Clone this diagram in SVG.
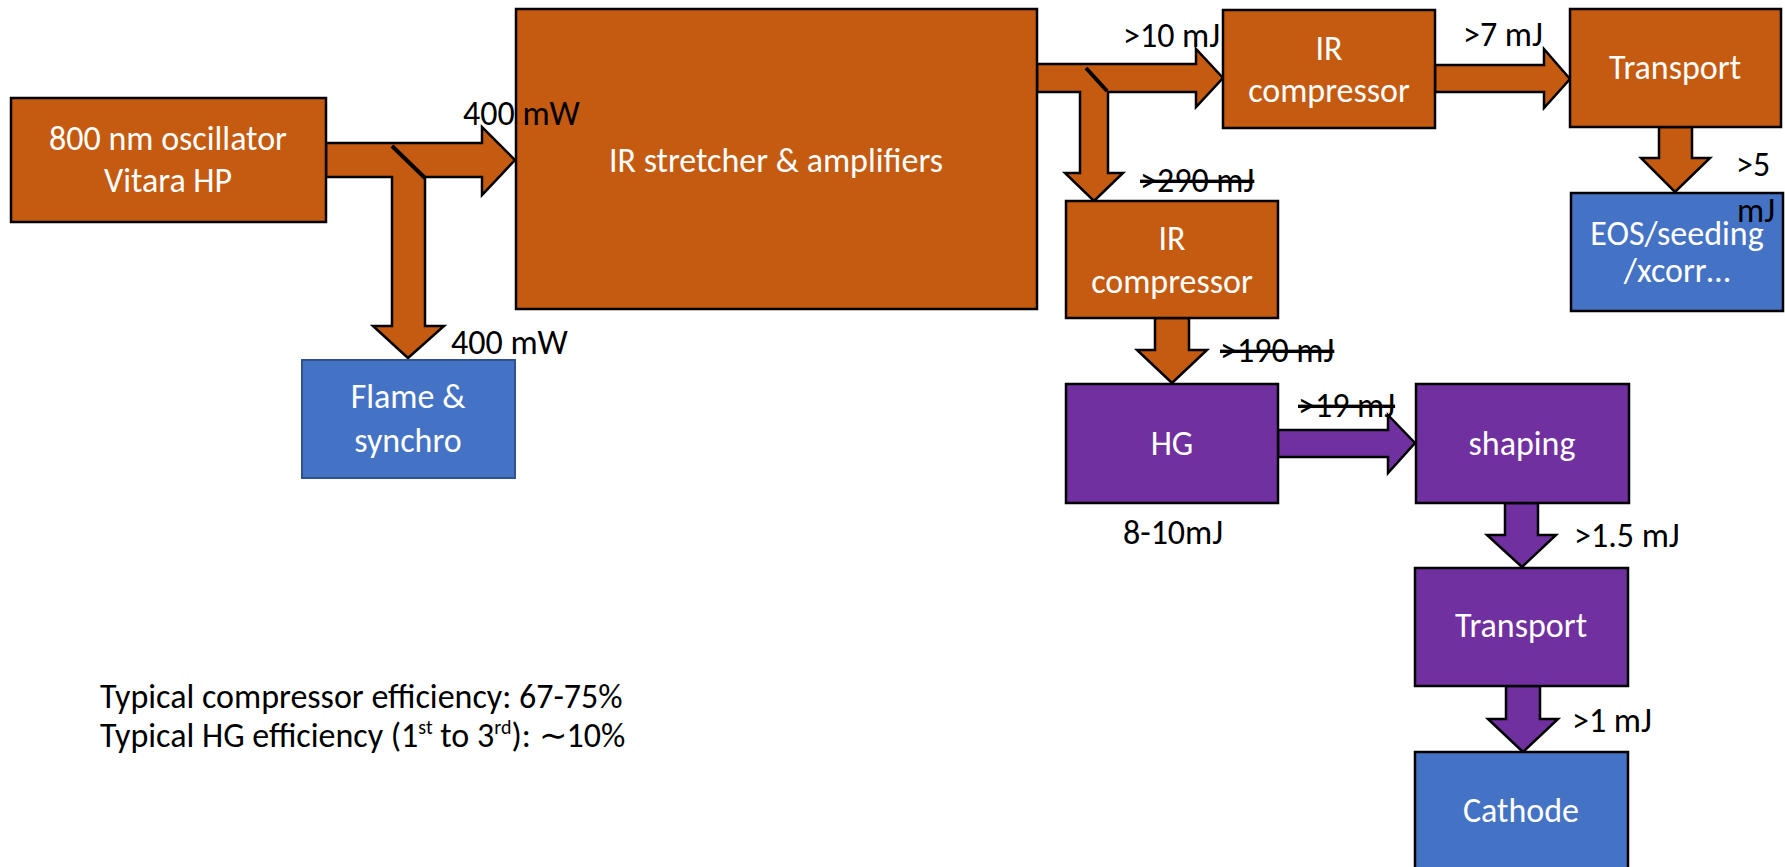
<svg xmlns="http://www.w3.org/2000/svg" width="1785" height="867" viewBox="0 0 1785 867">
  <defs>
    <style>
      .ir { fill: #C55A11; stroke: #000; stroke-width: 2.5; }
      .uv { fill: #7030A0; stroke: #000; stroke-width: 2.5; }
      .use { fill: #4472C4; stroke: #000; stroke-width: 2.5; }
      .use-soft { fill: #4472C4; stroke: #2F528F; stroke-width: 2; }
      .arrow-ir { fill: #C55A11; stroke: #000; stroke-width: 2.5; stroke-linejoin: miter; }
      .arrow-uv { fill: #7030A0; stroke: #000; stroke-width: 2.5; stroke-linejoin: miter; }
      .mirror { stroke: #000; stroke-width: 4; }
      text { font-family: Carlito, Lato, "Liberation Sans", sans-serif; font-size: 34px; }
      .lbl { fill: #fff; text-anchor: middle; }
      .val { fill: #000; }
      .old { fill: #000; text-decoration: line-through; }
      .note { fill: #000; font-size: 34px; }
    </style>
  </defs>
  <rect width="1785" height="867" fill="#fff"/>

  <!-- beams between stages -->
  <g id="connectors">
    <!-- oscillator output, split to stretcher and to timing -->
    <polygon class="arrow-ir" points="326,143 482,143 482,127 515,160 482,195 482,177 425,177 425,326 444,326 408,358 373,326 392,326 392,177 326,177"/>
    <line class="mirror" x1="392" y1="146" x2="425" y2="178"/>
    <!-- amplifier output, split to both compressors -->
    <polygon class="arrow-ir" points="1037,64 1196,64 1196,49 1223,78 1196,107 1196,92 1108,92 1108,173 1123,173 1094,201 1065,173 1080,173 1080,92 1037,92"/>
    <line class="mirror" x1="1086" y1="68" x2="1107" y2="91"/>
    <polygon class="arrow-ir" points="1435,65 1544,65 1544,49 1570,79 1544,108 1544,92 1435,92"/>
    <polygon class="arrow-ir" points="1659,127 1659,158 1641,158 1675,192 1710,158 1692,158 1692,127"/>
    <polygon class="arrow-ir" points="1155,318 1155,350 1137,350 1172,383 1207,350 1189,350 1189,318"/>
    <polygon class="arrow-uv" points="1278,430 1388,430 1388,415 1415,443 1388,473 1388,457 1278,457"/>
    <polygon class="arrow-uv" points="1505,503 1505,535 1487,535 1522,567 1556,535 1538,535 1538,503"/>
    <polygon class="arrow-uv" points="1506,686 1506,719 1488,719 1523,752 1558,719 1540,719 1540,686"/>
  </g>

  <g id="oscillator">
    <rect class="ir" x="11" y="98" width="315" height="124"/>
    <text class="lbl" x="168" y="150">800 nm oscillator</text>
    <text class="lbl" x="168" y="192">Vitara HP</text>
  </g>

  <g id="stretcher">
    <rect class="ir" x="516" y="9" width="521" height="300"/>
    <text class="lbl" x="776" y="172">IR stretcher &amp; amplifiers</text>
  </g>

  <g id="flame">
    <rect class="use-soft" x="302" y="360" width="213" height="118"/>
    <text class="lbl" x="408" y="408">Flame &amp;</text>
    <text class="lbl" x="408" y="452">synchro</text>
  </g>

  <g id="compressor-a">
    <rect class="ir" x="1223" y="10" width="212" height="118"/>
    <text class="lbl" x="1329" y="60">IR</text>
    <text class="lbl" x="1329" y="102">compressor</text>
  </g>

  <g id="transport-a">
    <rect class="ir" x="1570" y="9" width="211" height="118"/>
    <text class="lbl" x="1675" y="79">Transport</text>
  </g>

  <g id="eos">
    <rect class="use" x="1571" y="193" width="212" height="118"/>
    <text class="lbl" x="1677" y="245">EOS/seeding</text>
    <text class="lbl" x="1677" y="282">/xcorr…</text>
  </g>

  <g id="compressor-b">
    <rect class="ir" x="1066" y="201" width="212" height="117"/>
    <text class="lbl" x="1172" y="250">IR</text>
    <text class="lbl" x="1172" y="293">compressor</text>
  </g>

  <g id="hg">
    <rect class="uv" x="1066" y="384" width="212" height="119"/>
    <text class="lbl" x="1172" y="455">HG</text>
  </g>

  <g id="shaping">
    <rect class="uv" x="1416" y="384" width="213" height="119"/>
    <text class="lbl" x="1522" y="455">shaping</text>
  </g>

  <g id="transport-b">
    <rect class="uv" x="1415" y="568" width="213" height="118"/>
    <text class="lbl" x="1521" y="637">Transport</text>
  </g>

  <g id="cathode">
    <rect class="use" x="1415" y="752" width="213" height="140"/>
    <text class="lbl" x="1521" y="822">Cathode</text>
  </g>

  <!-- energy / power values -->
  <g id="values">
    <text class="val" x="463" y="125">400 mW</text>
    <text class="val" x="451" y="354">400 mW</text>
    <text class="val" x="1123" y="47">&gt;10 mJ</text>
    <text class="val" x="1463" y="46">&gt;7 mJ</text>
    <text class="val" x="1736" y="176">&gt;5</text>
    <text class="val" x="1737" y="222">mJ</text>
    <text class="old" x="1140" y="192">&gt;290 mJ</text>
    <text class="old" x="1220" y="362">&gt;190 mJ</text>
    <text class="old" x="1298" y="417">&gt;19 mJ</text>
    <text class="val" x="1123" y="544">8-10mJ</text>
    <text class="val" x="1574" y="547">&gt;1.5 mJ</text>
    <text class="val" x="1572" y="732">&gt;1 mJ</text>
  </g>

  <g id="notes">
    <text class="note" x="100" y="708">Typical compressor efficiency: 67-75%</text>
    <text class="note" x="100" y="747">Typical HG efficiency (1<tspan font-size="20" dy="-13">st</tspan><tspan dy="13"> to 3</tspan><tspan font-size="20" dy="-13">rd</tspan><tspan dy="13">): ∼10%</tspan></text>
  </g>
</svg>
